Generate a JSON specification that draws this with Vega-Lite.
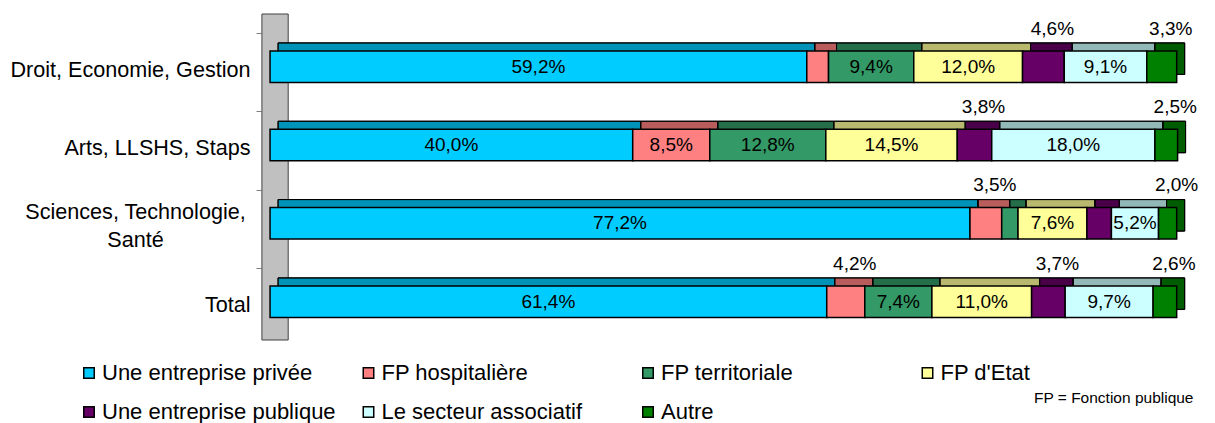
{
  "$schema": "https://vega.github.io/schema/vega-lite/v6.json",
  "autosize": {"type": "none"},
  "padding": {"left": 261, "top": 14, "right": 22, "bottom": 83},
  "width": 932,
  "height": 326,
  "config": {"font": "Liberation Sans", "view": {"stroke": null}},
  "layer": [
    {
      "data": {"values": [{}]},
      "mark": {"type": "rect", "fill": "#C0C0C0", "stroke": "#404040", "strokeWidth": 1},
      "encoding": {
        "x": {"datum": -0.9, "type": "quantitative"},
        "x2": {"datum": 2.0}
      }
    },
    {
      "data": {
        "values": [
          {"cat": "Droit, Economie, Gestion", "s": "Une entreprise privée", "v": 59.2, "lbl": "59,2%"},
          {"cat": "Droit, Economie, Gestion", "s": "FP hospitalière", "v": 2.4, "lbl": ""},
          {"cat": "Droit, Economie, Gestion", "s": "FP territoriale", "v": 9.4, "lbl": "9,4%"},
          {"cat": "Droit, Economie, Gestion", "s": "FP d'Etat", "v": 12.0, "lbl": "12,0%"},
          {"cat": "Droit, Economie, Gestion", "s": "Une entreprise publique", "v": 4.6, "lbl": "4,6%"},
          {"cat": "Droit, Economie, Gestion", "s": "Le secteur associatif", "v": 9.1, "lbl": "9,1%"},
          {"cat": "Droit, Economie, Gestion", "s": "Autre", "v": 3.3, "lbl": "3,3%"},
          {"cat": "Arts, LLSHS, Staps", "s": "Une entreprise privée", "v": 40.0, "lbl": "40,0%"},
          {"cat": "Arts, LLSHS, Staps", "s": "FP hospitalière", "v": 8.5, "lbl": "8,5%"},
          {"cat": "Arts, LLSHS, Staps", "s": "FP territoriale", "v": 12.8, "lbl": "12,8%"},
          {"cat": "Arts, LLSHS, Staps", "s": "FP d'Etat", "v": 14.5, "lbl": "14,5%"},
          {"cat": "Arts, LLSHS, Staps", "s": "Une entreprise publique", "v": 3.8, "lbl": "3,8%"},
          {"cat": "Arts, LLSHS, Staps", "s": "Le secteur associatif", "v": 18.0, "lbl": "18,0%"},
          {"cat": "Arts, LLSHS, Staps", "s": "Autre", "v": 2.5, "lbl": "2,5%"},
          {"cat": "Sciences, Technologie, Santé", "s": "Une entreprise privée", "v": 77.2, "lbl": "77,2%"},
          {"cat": "Sciences, Technologie, Santé", "s": "FP hospitalière", "v": 3.5, "lbl": "3,5%"},
          {"cat": "Sciences, Technologie, Santé", "s": "FP territoriale", "v": 1.8, "lbl": ""},
          {"cat": "Sciences, Technologie, Santé", "s": "FP d'Etat", "v": 7.6, "lbl": "7,6%"},
          {"cat": "Sciences, Technologie, Santé", "s": "Une entreprise publique", "v": 2.7, "lbl": ""},
          {"cat": "Sciences, Technologie, Santé", "s": "Le secteur associatif", "v": 5.2, "lbl": "5,2%"},
          {"cat": "Sciences, Technologie, Santé", "s": "Autre", "v": 2.0, "lbl": "2,0%"},
          {"cat": "Total", "s": "Une entreprise privée", "v": 61.4, "lbl": "61,4%"},
          {"cat": "Total", "s": "FP hospitalière", "v": 4.2, "lbl": "4,2%"},
          {"cat": "Total", "s": "FP territoriale", "v": 7.4, "lbl": "7,4%"},
          {"cat": "Total", "s": "FP d'Etat", "v": 11.0, "lbl": "11,0%"},
          {"cat": "Total", "s": "Une entreprise publique", "v": 3.7, "lbl": "3,7%"},
          {"cat": "Total", "s": "Le secteur associatif", "v": 9.7, "lbl": "9,7%"},
          {"cat": "Total", "s": "Autre", "v": 2.6, "lbl": "2,6%"}
        ]
      },
      "transform": [
        {"calculate": "indexof(['Une entreprise privée','FP hospitalière','FP territoriale',\"FP d'Etat\",'Une entreprise publique','Le secteur associatif','Autre'], datum.s)", "as": "o"},
        {"stack": "v", "groupby": ["cat"], "sort": [{"field": "o", "order": "ascending"}], "as": ["x0", "x1"]},
        {"calculate": "(datum.x0 + datum.x1) / 2", "as": "mid"}
      ],
      "encoding": {
        "y": {
          "field": "cat",
          "type": "nominal",
          "sort": ["Droit, Economie, Gestion", "Arts, LLSHS, Staps", "Sciences, Technologie, Santé", "Total"],
          "scale": {"paddingInner": 0.598, "paddingOuter": 0.38, "align": 0.62},
          "axis": {
            "title": null,
            "domain": false,
            "ticks": true,
            "tickColor": "#808080",
            "tickSize": 5,
            "bandPosition": 0,
            "tickOffset": -18,
            "labelOffset": {"condition": {"test": "datum.value == 'Sciences, Technologie, Santé'", "value": 7}, "value": 22},
            "labelFontSize": 21.6,
            "labelColor": "#000000",
            "labelLimit": 320,
            "labelBaseline": "middle",
            "labelLineHeight": 28,
            "labelAlign": {"condition": {"test": "datum.value == 'Sciences, Technologie, Santé'", "value": "center"}, "value": "right"},
            "labelPadding": {"condition": {"test": "datum.value == 'Sciences, Technologie, Santé'", "value": 121}, "value": 6},
            "labelExpr": "datum.label == 'Sciences, Technologie, Santé' ? ['Sciences, Technologie,', 'Santé'] : datum.label"
          }
        }
      },
      "layer": [
        {
          "mark": {"type": "bar", "xOffset": 8, "x2Offset": 8, "yOffset": -8, "y2Offset": -8, "stroke": "#000000", "strokeWidth": 1},
          "encoding": {
            "x": {"field": "x0", "type": "quantitative", "scale": {"domain": [-1, 101.8], "nice": false, "zero": false},
              "axis": {"domain": false, "ticks": false, "labels": false, "grid": false, "title": "FP = Fonction publique", "titleAnchor": "end", "titleFontSize": 15.5, "titleFontWeight": "normal", "titleColor": "#000000", "titlePadding": 50}},
            "x2": {"field": "x1"},
            "color": {"field": "s", "type": "nominal"}
          }
        },
        {
          "mark": {"type": "bar", "xOffset": 8, "x2Offset": 8, "yOffset": -8, "y2Offset": -8, "fill": "#000000", "fillOpacity": 0.28, "stroke": "#000000", "strokeWidth": 1},
          "encoding": {
            "x": {"field": "x0", "type": "quantitative"},
            "x2": {"field": "x1"}
          }
        },
        {
          "mark": {"type": "bar", "stroke": "#000000", "strokeWidth": 1.5},
          "encoding": {
            "x": {"field": "x0", "type": "quantitative"},
            "x2": {"field": "x1"},
            "color": {
              "field": "s",
              "type": "nominal",
              "scale": {
                "domain": ["Une entreprise privée", "FP hospitalière", "FP territoriale", "FP d'Etat", "Une entreprise publique", "Le secteur associatif", "Autre"],
                "range": ["#00CCFF", "#FF8080", "#339966", "#FFFF99", "#660066", "#CCFFFF", "#008000"]
              },
              "legend": {
                "orient": "none",
                "legendX": -183,
                "legendY": 348,
                "direction": "horizontal",
                "columns": 4,
                "title": null,
                "symbolType": "square",
                "symbolSize": 110,
                "symbolStrokeColor": "#000000",
                "symbolStrokeWidth": 1.5,
                "labelFontSize": 22,
                "labelColor": "#000000",
                "labelLimit": 320,
                "labelOffset": 2,
                "gridAlign": "all",
                "columnPadding": 21.5,
                "rowPadding": 17
              }
            }
          }
        },
        {
          "transform": [{"filter": "datum.v >= 5 && datum.lbl != ''"}],
          "mark": {"type": "text", "fontSize": 19, "align": "center", "baseline": "middle", "color": "#000000"},
          "encoding": {
            "x": {"field": "mid", "type": "quantitative"},
            "text": {"field": "lbl"}
          }
        },
        {
          "transform": [{"filter": "datum.v < 5 && datum.lbl != ''"}],
          "mark": {"type": "text", "fontSize": 19, "align": "center", "baseline": "middle", "color": "#000000", "dx": 9, "dy": -38},
          "encoding": {
            "x": {"field": "mid", "type": "quantitative"},
            "text": {"field": "lbl"}
          }
        }
      ]
    }
  ]
}
